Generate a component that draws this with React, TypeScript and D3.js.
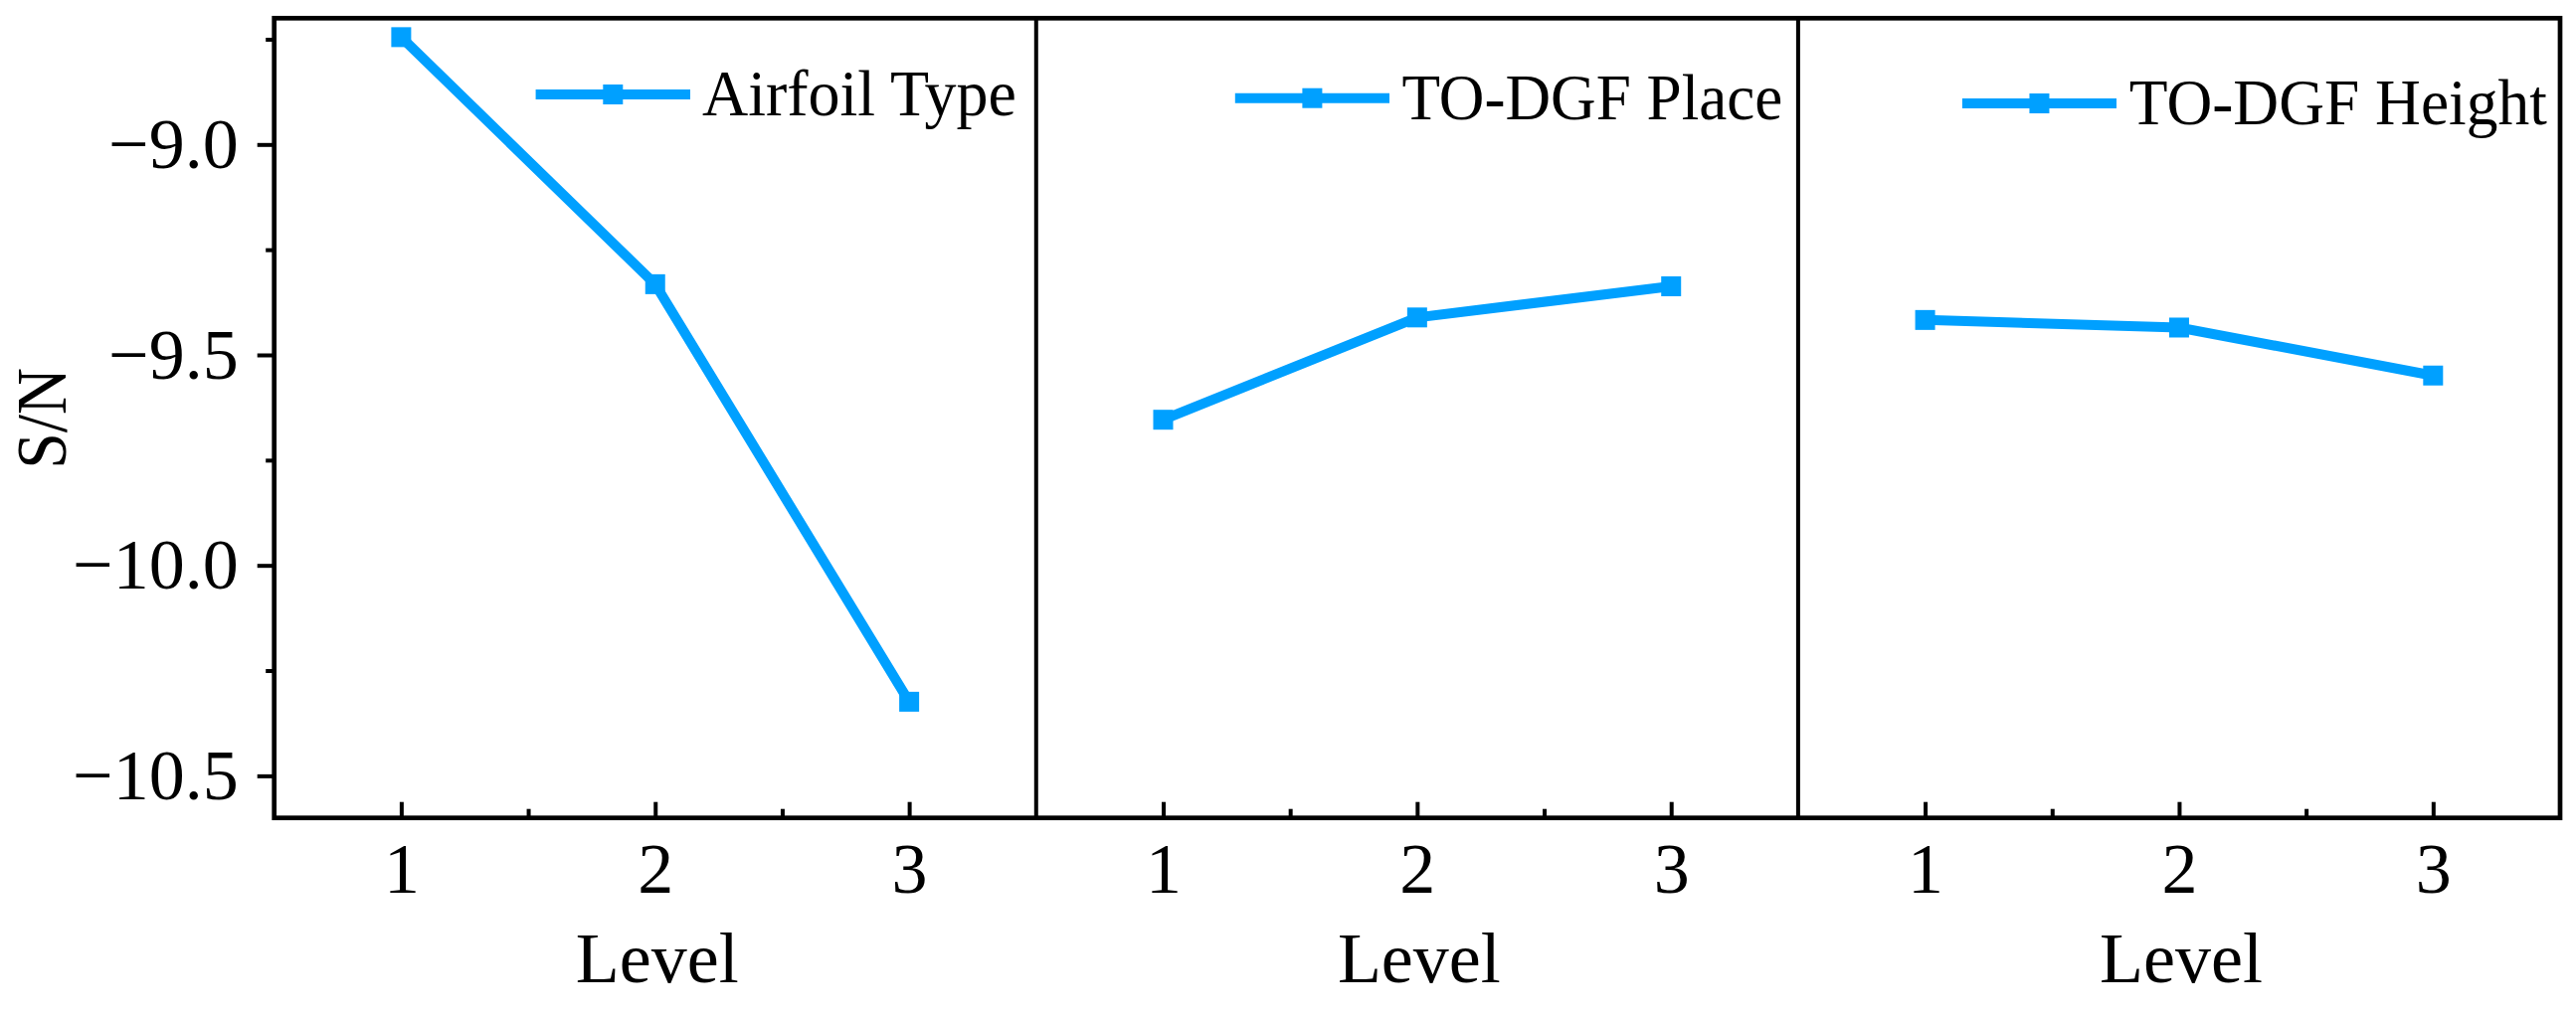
import { useEffect, useRef } from "react";
import * as d3 from "d3";

const levels = [1, 2, 3];
const airfoilType = [-8.745, -9.332, -10.324];
const todgfPlace = [-9.654, -9.411, -9.337];
const todgfHeight = [-9.417, -9.435, -9.549];
const seriesNames = ["Airfoil Type", "TO-DGF Place", "TO-DGF Height"];

const yMajorTicks = [-9.0, -9.5, -10.0, -10.5];
const yMinorTicks = [-8.75, -9.25, -9.75, -10.25];
const xMajorTicks = [1, 2, 3];
const xMinorTicks = [1.5, 2.5];

const W = 2590;
const H = 1026;
const plot = { left: 275.7, right: 2574, top: 18.3, bottom: 822.7 };
const BLUE = "#00A0FF";
const FONT = "'Liberation Serif', 'Times New Roman', serif";

// legend placement per panel (line start/end, line y, text width)
const legendLayout = [
  { x0: 538.6, x1: 694, y: 95, tx: 706, tw: 316 },
  { x0: 1241.8, x1: 1397, y: 98.7, tx: 1409.4, tw: 383 },
  { x0: 1972.9, x1: 2128, y: 104, tx: 2140.8, tw: 420 },
];

export default function App() {
  const svgRef = useRef<SVGSVGElement>(null);

  useEffect(() => {
    if (!svgRef.current) return;
    const svg = d3.select(svgRef.current);
    svg.selectAll("*").remove();

    const series = [airfoilType, todgfPlace, todgfHeight];
    const panelW = (plot.right - plot.left) / series.length;

    const y = d3.scaleLinear().domain([-10.6, -8.7]).range([plot.bottom, plot.top]);

    svg.append("rect").attr("width", W).attr("height", H).attr("fill", "#fff");

    // y axis (left panel only)
    const yAxis = svg.append("g").attr("transform", `translate(${plot.left},0)`);
    yAxis.call(
      d3.axisLeft(y).tickValues(yMajorTicks).tickSize(17).tickPadding(19).tickFormat(d3.format(".1f"))
    );
    yAxis.append("g").call(d3.axisLeft(y).tickValues(yMinorTicks).tickSize(8.5).tickFormat(() => ""));
    yAxis.selectAll(".domain").remove();
    yAxis.selectAll("line").attr("stroke", "#000").attr("stroke-width", 4);
    yAxis
      .selectAll("text")
      .attr("font-family", FONT)
      .attr("font-size", 72)
      .attr("fill", "#000");

    series.forEach((vals, i) => {
      const x0 = plot.left + i * panelW;
      const x = d3.scaleLinear().domain([0.5, 3.5]).range([x0, x0 + panelW]);

      const xAxis = svg.append("g").attr("transform", `translate(0,${plot.bottom})`);
      xAxis.call(d3.axisBottom(x).tickValues(xMajorTicks).tickSize(-16).tickPadding(24).tickFormat(d3.format("d")));
      xAxis.append("g").call(d3.axisBottom(x).tickValues(xMinorTicks).tickSize(-9).tickFormat(() => ""));
      xAxis.selectAll(".domain").remove();
      xAxis.selectAll("line").attr("stroke", "#000").attr("stroke-width", 4);
      xAxis
        .selectAll("text")
        .attr("font-family", FONT)
        .attr("font-size", 72)
        .attr("fill", "#000");

      svg
        .append("text")
        .attr("x", x(2) + 2)
        .attr("y", 988)
        .attr("text-anchor", "middle")
        .attr("font-family", FONT)
        .attr("font-size", 72)
        .text("Level");

      const pts = levels.map((l, j) => [x(l), y(vals[j])] as [number, number]);
      svg
        .append("path")
        .attr("d", d3.line()(pts))
        .attr("fill", "none")
        .attr("stroke", BLUE)
        .attr("stroke-width", 10)
        .attr("stroke-linejoin", "miter");
      svg
        .selectAll(null)
        .data(pts)
        .enter()
        .append("rect")
        .attr("x", (d) => d[0] - 10)
        .attr("y", (d) => d[1] - 10)
        .attr("width", 20)
        .attr("height", 20)
        .attr("fill", BLUE);

      // legend
      const lg = legendLayout[i];
      svg
        .append("line")
        .attr("x1", lg.x0)
        .attr("x2", lg.x1)
        .attr("y1", lg.y)
        .attr("y2", lg.y)
        .attr("stroke", BLUE)
        .attr("stroke-width", 10);
      svg
        .append("rect")
        .attr("x", (lg.x0 + lg.x1) / 2 - 10)
        .attr("y", lg.y - 10)
        .attr("width", 20)
        .attr("height", 20)
        .attr("fill", BLUE);
      svg
        .append("text")
        .attr("x", lg.tx)
        .attr("y", lg.y + 21)
        .attr("font-family", FONT)
        .attr("font-size", 65)
        .attr("textLength", lg.tw)
        .attr("lengthAdjust", "spacingAndGlyphs")
        .text(seriesNames[i]);

      if (i > 0) {
        svg
          .append("line")
          .attr("x1", x0)
          .attr("x2", x0)
          .attr("y1", plot.top)
          .attr("y2", plot.bottom)
          .attr("stroke", "#000")
          .attr("stroke-width", 4);
      }
    });

    // frame
    svg
      .append("rect")
      .attr("x", plot.left)
      .attr("y", plot.top)
      .attr("width", plot.right - plot.left)
      .attr("height", plot.bottom - plot.top)
      .attr("fill", "none")
      .attr("stroke", "#000")
      .attr("stroke-width", 4.7);

    svg
      .append("text")
      .attr("transform", `translate(65.7,420.8) rotate(-90)`)
      .attr("text-anchor", "middle")
      .attr("font-family", FONT)
      .attr("font-size", 72)
      .attr("textLength", 102)
      .attr("lengthAdjust", "spacingAndGlyphs")
      .text("S/N");
  }, []);

  return (
    <svg
      ref={svgRef}
      width={W}
      height={H}
      style={{ position: "absolute", left: 0, top: 0, display: "block" }}
    />
  );
}
